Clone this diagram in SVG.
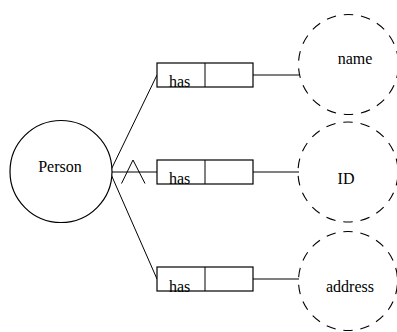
<svg xmlns="http://www.w3.org/2000/svg" width="397" height="332" viewBox="0 0 397 332">
  <style>
    .line { stroke: #000; stroke-width: 1; fill: none; }
    .entity { stroke: #000; stroke-width: 1.2; fill: #fff; }
    .attr { stroke: #000; stroke-width: 1.1; fill: none; stroke-dasharray: 11 9; stroke-dashoffset: -4.5; }
    .box { stroke: #000; stroke-width: 1.2; fill: #fff; }
    text { font-family: "Liberation Serif", Tinos, "Nimbus Roman", "Times New Roman", "DejaVu Serif", serif; font-size: 16px; fill: #000; }
  </style>

  <g id="connectors">
    <line class="line" x1="110" y1="172" x2="157" y2="75"/>
    <line class="line" x1="110" y1="172" x2="157" y2="172"/>
    <line class="line" x1="110" y1="172" x2="157" y2="279"/>
    <polyline class="line" points="121.5,183.5 133,160 145,183.5"/>
    <line class="line" x1="253" y1="75" x2="299" y2="75"/>
    <line class="line" x1="253" y1="172" x2="299" y2="172"/>
    <line class="line" x1="253" y1="279" x2="299" y2="279"/>
  </g>

  <g id="person">
    <circle class="entity" cx="61" cy="171.5" r="51"/>
    <text x="60" y="172" text-anchor="middle">Person</text>
  </g>

  <g id="has-name">
    <rect class="box" x="157" y="63" width="96" height="24"/>
    <line class="line" x1="205" y1="63" x2="205" y2="87"/>
    <text x="169" y="87">has</text>
  </g>

  <g id="has-id">
    <rect class="box" x="157" y="160" width="96" height="24"/>
    <line class="line" x1="205" y1="160" x2="205" y2="184"/>
    <text x="169" y="184">has</text>
  </g>

  <g id="has-address">
    <rect class="box" x="157" y="267" width="96" height="24"/>
    <line class="line" x1="205" y1="267" x2="205" y2="291"/>
    <text x="169" y="291.5">has</text>
  </g>

  <g id="name">
    <circle class="attr" cx="348.5" cy="64.5" r="50" pathLength="360"/>
    <text x="355" y="64" text-anchor="middle">name</text>
  </g>

  <g id="id">
    <circle class="attr" cx="348" cy="172" r="50" pathLength="360"/>
    <text x="346" y="184" text-anchor="middle">ID</text>
  </g>

  <g id="address">
    <circle class="attr" cx="348" cy="281" r="49.5" pathLength="360"/>
    <text x="350" y="291.5" text-anchor="middle">address</text>
  </g>
</svg>
